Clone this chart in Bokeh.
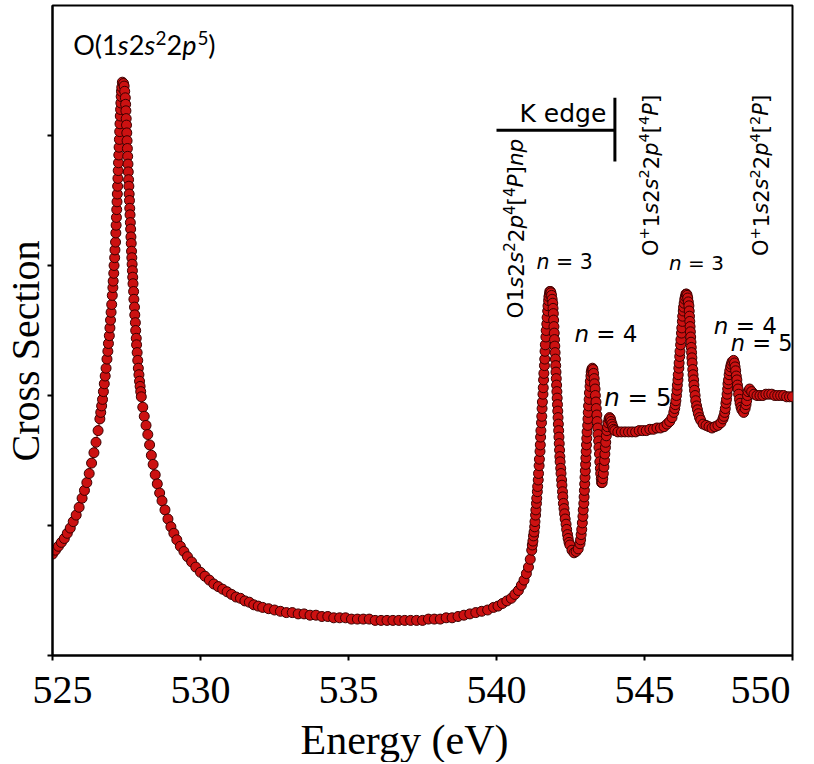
import math
from bokeh.plotting import figure
from bokeh.models import Range1d, FixedTicker, Label, Title
from bokeh.embed import file_html
from bokeh.resources import INLINE

# ---------------- data ----------------
# main O(1s2s^2 2p^5) resonance, rising side
main_rise_ev = [
    525.00, 525.10, 525.20, 525.30, 525.40, 525.50, 525.60, 525.70, 525.80, 525.90,
    526.00, 526.08, 526.16, 526.24, 526.32, 526.40, 526.47, 526.54, 526.60, 526.63,
    526.66, 526.69, 526.72, 526.75, 526.78, 526.81, 526.84, 526.87, 526.89, 526.92,
    526.94, 526.96, 526.98, 527.00, 527.02, 527.04, 527.05, 527.07, 527.08, 527.10,
    527.11, 527.13, 527.14, 527.15, 527.16, 527.17, 527.18, 527.19, 527.20, 527.21,
    527.22, 527.23, 527.24, 527.25, 527.26, 527.27, 527.28, 527.29, 527.30, 527.31,
    527.32, 527.33, 527.34, 527.36]
main_rise_cs = [
    0.78, 0.81, 0.84, 0.87, 0.90, 0.94, 0.98, 1.03, 1.08, 1.14,
    1.21, 1.27, 1.33, 1.40, 1.48, 1.56, 1.64, 1.73, 1.82, 1.87,
    1.92, 1.97, 2.03, 2.09, 2.15, 2.21, 2.28, 2.34, 2.40, 2.46,
    2.52, 2.58, 2.64, 2.70, 2.77, 2.83, 2.88, 2.94, 3.00, 3.06,
    3.12, 3.18, 3.25, 3.31, 3.37, 3.43, 3.49, 3.55, 3.61, 3.67,
    3.73, 3.79, 3.85, 3.91, 3.97, 4.03, 4.09, 4.15, 4.20, 4.25,
    4.30, 4.34, 4.37, 4.41]

# main resonance, falling side
main_fall_ev = [
    527.40, 527.42, 527.44, 527.46, 527.47, 527.48, 527.49, 527.50, 527.51, 527.52,
    527.53, 527.54, 527.55, 527.56, 527.57, 527.58, 527.59, 527.60, 527.61, 527.62,
    527.63, 527.64, 527.65, 527.66, 527.67, 527.68, 527.69, 527.70, 527.71, 527.72,
    527.74, 527.75, 527.77, 527.78, 527.80, 527.81, 527.83, 527.84, 527.86, 527.88,
    527.90, 527.92, 527.94, 527.96, 527.98, 528.00, 528.05, 528.10, 528.16, 528.22,
    528.28, 528.34, 528.40, 528.47, 528.54, 528.62, 528.70, 528.80, 528.90, 529.00,
    529.10, 529.20, 529.32, 529.44, 529.56, 529.70, 529.84, 530.00]
main_fall_cs = [
    4.40, 4.38, 4.34, 4.29, 4.24, 4.19, 4.13, 4.08, 4.02, 3.96,
    3.90, 3.84, 3.78, 3.72, 3.66, 3.61, 3.55, 3.50, 3.44, 3.39,
    3.33, 3.28, 3.22, 3.17, 3.11, 3.06, 3.01, 2.96, 2.91, 2.86,
    2.80, 2.74, 2.68, 2.62, 2.56, 2.50, 2.44, 2.39, 2.33, 2.27,
    2.21, 2.16, 2.11, 2.07, 2.03, 1.99, 1.91, 1.84, 1.77, 1.70,
    1.62, 1.54, 1.47, 1.39, 1.32, 1.25, 1.19, 1.12, 1.05, 0.99,
    0.94, 0.89, 0.84, 0.80, 0.76, 0.72, 0.68, 0.64]

# valley between the resonances
valley_ev = [
    530.15, 530.30, 530.45, 530.60, 530.75, 530.90, 531.05, 531.20, 531.35, 531.50,
    531.65, 531.80, 531.95, 532.10, 532.30, 532.50, 532.70, 532.90, 533.10, 533.30,
    533.50, 533.70, 533.90, 534.10, 534.30, 534.50, 534.70, 534.90, 535.10, 535.30,
    535.50, 535.70, 535.90, 536.10, 536.30, 536.50, 536.70, 536.90, 537.10, 537.30,
    537.50, 537.70, 537.90, 538.10, 538.30, 538.50, 538.70, 538.90, 539.10, 539.30,
    539.50, 539.70, 539.90, 540.05, 540.20, 540.35]
valley_cs = [
    0.61, 0.58, 0.55, 0.53, 0.51, 0.49, 0.47, 0.45, 0.44, 0.42,
    0.41, 0.39, 0.38, 0.37, 0.36, 0.35, 0.34, 0.33, 0.33, 0.32,
    0.32, 0.31, 0.31, 0.30, 0.30, 0.29, 0.29, 0.29, 0.28, 0.28,
    0.28, 0.28, 0.27, 0.27, 0.27, 0.27, 0.27, 0.27, 0.27, 0.27,
    0.27, 0.28, 0.28, 0.28, 0.29, 0.29, 0.30, 0.31, 0.32, 0.33,
    0.34, 0.35, 0.37, 0.38, 0.40, 0.42]

# O 1s2s^2 2p^4[4P] np, n = 3
np3_ev = [
    540.50, 540.62, 540.74, 540.84, 540.93, 541.01, 541.08, 541.14, 541.19, 541.21,
    541.23, 541.25, 541.27, 541.29, 541.30, 541.32, 541.33, 541.35, 541.36, 541.38,
    541.39, 541.41, 541.42, 541.44, 541.45, 541.47, 541.48, 541.49, 541.50, 541.52,
    541.53, 541.54, 541.55, 541.57, 541.58, 541.59, 541.60, 541.62, 541.63, 541.64,
    541.65, 541.67, 541.68, 541.70, 541.71, 541.73, 541.74, 541.76, 541.77, 541.79,
    541.80, 541.82, 541.84, 541.86, 541.88, 541.90, 541.91, 541.92, 541.93, 541.94,
    541.95, 541.96, 541.97, 541.98, 541.99, 542.00, 542.01, 542.02, 542.03, 542.04,
    542.05, 542.06, 542.07, 542.08, 542.09, 542.10, 542.11, 542.12, 542.13, 542.14,
    542.15, 542.17, 542.18, 542.20, 542.21, 542.23, 542.24, 542.26, 542.28, 542.30,
    542.32, 542.35, 542.37, 542.40, 542.42, 542.45, 542.48, 542.55, 542.62, 542.69]
np3_cs = [
    0.44, 0.47, 0.50, 0.54, 0.58, 0.63, 0.68, 0.74, 0.81, 0.85,
    0.88, 0.92, 0.95, 0.99, 1.03, 1.08, 1.12, 1.17, 1.21, 1.26,
    1.30, 1.35, 1.40, 1.46, 1.51, 1.57, 1.62, 1.68, 1.73, 1.79,
    1.84, 1.90, 1.95, 2.01, 2.06, 2.12, 2.17, 2.23, 2.28, 2.34,
    2.39, 2.45, 2.50, 2.55, 2.60, 2.65, 2.69, 2.73, 2.76, 2.78,
    2.80, 2.80, 2.79, 2.77, 2.74, 2.71, 2.67, 2.63, 2.58, 2.53,
    2.48, 2.43, 2.38, 2.33, 2.28, 2.23, 2.18, 2.13, 2.08, 2.03,
    1.98, 1.93, 1.88, 1.83, 1.78, 1.73, 1.68, 1.63, 1.58, 1.53,
    1.49, 1.44, 1.40, 1.35, 1.31, 1.26, 1.22, 1.17, 1.13, 1.09,
    1.05, 1.01, 0.97, 0.93, 0.90, 0.87, 0.85, 0.81, 0.79, 0.80]

# n = 4 and n = 5 below the K edge
np45_ev = [
    542.76, 542.82, 542.84, 542.86, 542.88, 542.90, 542.92, 542.93, 542.95, 542.96,
    542.97, 542.98, 542.99, 543.00, 543.01, 543.02, 543.03, 543.04, 543.05, 543.06,
    543.08, 543.09, 543.10, 543.11, 543.13, 543.14, 543.16, 543.17, 543.19, 543.20,
    543.22, 543.24, 543.26, 543.28, 543.30, 543.31, 543.33, 543.34, 543.36, 543.37,
    543.39, 543.40, 543.42, 543.43, 543.45, 543.46, 543.48, 543.49, 543.51, 543.52,
    543.54, 543.55, 543.57, 543.59, 543.61, 543.63, 543.65, 543.66, 543.68, 543.69,
    543.71, 543.73, 543.75, 543.77, 543.80, 543.82, 543.85, 543.87, 543.90, 543.93,
    543.96, 544.00, 544.10]
np45_cs = [
    0.82, 0.86, 0.89, 0.93, 0.97, 1.02, 1.07, 1.12, 1.17, 1.22,
    1.27, 1.32, 1.37, 1.42, 1.47, 1.52, 1.57, 1.62, 1.67, 1.72,
    1.77, 1.82, 1.87, 1.92, 1.97, 2.02, 2.07, 2.11, 2.15, 2.18,
    2.20, 2.21, 2.20, 2.17, 2.13, 2.09, 2.05, 2.00, 1.95, 1.90,
    1.85, 1.80, 1.75, 1.70, 1.65, 1.60, 1.55, 1.49, 1.44, 1.40,
    1.36, 1.33, 1.33, 1.36, 1.40, 1.45, 1.50, 1.55, 1.60, 1.64,
    1.69, 1.73, 1.76, 1.79, 1.82, 1.83, 1.82, 1.80, 1.78, 1.76,
    1.74, 1.73, 1.72]

# plateau and O+ 1s2s^2 2p^4[4P] n = 3
ion3_ev = [
    544.22, 544.34, 544.46, 544.58, 544.70, 544.82, 544.94, 545.06, 545.18, 545.30,
    545.42, 545.54, 545.66, 545.76, 545.85, 545.93, 545.99, 546.02, 546.04, 546.06,
    546.08, 546.10, 546.11, 546.13, 546.14, 546.16, 546.17, 546.19, 546.20, 546.22,
    546.23, 546.25, 546.26, 546.28, 546.29, 546.31, 546.32, 546.34, 546.36, 546.38,
    546.40, 546.42, 546.44, 546.46, 546.48, 546.50, 546.51, 546.52, 546.53, 546.54,
    546.55, 546.56, 546.57, 546.58, 546.59, 546.60, 546.61, 546.63, 546.64, 546.66,
    546.67, 546.69, 546.71, 546.73, 546.76, 546.79, 546.82, 546.86, 546.90, 546.98,
    547.08, 547.18, 547.28, 547.38, 547.48, 547.58]
ion3_cs = [
    1.72, 1.72, 1.72, 1.72, 1.72, 1.73, 1.73, 1.73, 1.74, 1.74,
    1.75, 1.75, 1.76, 1.78, 1.80, 1.83, 1.87, 1.90, 1.93, 1.96,
    2.00, 2.04, 2.08, 2.12, 2.16, 2.21, 2.25, 2.30, 2.34, 2.39,
    2.43, 2.48, 2.52, 2.57, 2.61, 2.65, 2.68, 2.71, 2.74, 2.76,
    2.78, 2.78, 2.77, 2.75, 2.72, 2.69, 2.65, 2.61, 2.57, 2.53,
    2.49, 2.45, 2.41, 2.37, 2.33, 2.29, 2.25, 2.20, 2.16, 2.12,
    2.08, 2.04, 2.00, 1.96, 1.92, 1.89, 1.86, 1.83, 1.81, 1.78,
    1.77, 1.76, 1.75, 1.76, 1.77, 1.79]

# n = 4, n = 5 above the K edge and the tail
ion45_ev = [
    547.65, 547.68, 547.71, 547.73, 547.75, 547.77, 547.79, 547.81, 547.82, 547.84,
    547.86, 547.88, 547.91, 547.93, 547.96, 548.01, 548.04, 548.06, 548.08, 548.10,
    548.12, 548.14, 548.16, 548.18, 548.21, 548.23, 548.26, 548.29, 548.35, 548.40,
    548.43, 548.45, 548.48, 548.50, 548.55, 548.62, 548.70, 548.80, 548.90, 549.00,
    549.10, 549.20, 549.30, 549.40, 549.50, 549.60, 549.70, 549.80, 549.90, 550.00]
ion45_cs = [
    1.82, 1.84, 1.87, 1.90, 1.94, 1.97, 2.01, 2.05, 2.09, 2.12,
    2.16, 2.19, 2.22, 2.24, 2.26, 2.27, 2.25, 2.22, 2.19, 2.15,
    2.12, 2.08, 2.05, 2.01, 1.97, 1.94, 1.91, 1.89, 1.87, 1.90,
    1.93, 1.96, 2.00, 2.03, 2.05, 2.03, 2.01, 2.00, 2.00, 2.00,
    2.01, 2.01, 2.01, 2.00, 2.00, 2.00, 2.00, 1.99, 1.99, 1.99]

energy_ev = (main_rise_ev + main_fall_ev + valley_ev + np3_ev + np45_ev
             + ion3_ev + ion45_ev)
cross_section = (main_rise_cs + main_fall_cs + valley_cs + np3_cs + np45_cs
                 + ion3_cs + ion45_cs)
assert len(energy_ev) == len(cross_section)

x_ticks = [525, 530, 535, 540, 545, 550]
y_ticks = [0, 1, 2, 3, 4]

# K-edge marker (eV, cross-section units)
k_edge_ev = 544.0
k_edge_bar_x = [540.0, 544.0]
k_edge_bar_y = [4.04, 4.04]
k_edge_tick_y = [4.29, 3.80]

# ---------------- figure ----------------
p = figure(width=810, height=762,
           x_range=Range1d(525, 550), y_range=Range1d(0, 5.0),
           output_backend="svg", toolbar_location=None,
           min_border_left=49, min_border_right=18,
           min_border_top=5, min_border_bottom=103)

p.grid.visible = False
p.background_fill_color = "white"
p.border_fill_color = "white"
p.outline_line_color = "black"
p.outline_line_width = 2
p.outline_line_alpha = 1.0

SERIF = "Liberation Serif"
NB = "\u00a0"

xax = p.xaxis[0]
xax.ticker = FixedTicker(ticks=x_ticks)
# end labels nudged inward as in the reference (no-break space padding)
xax.major_label_overrides = {525: NB + NB + "525", 550: "550" + NB + NB}
xax.major_label_text_font = SERIF
xax.major_label_text_font_style = "normal"
xax.major_label_text_font_size = "40px"
xax.major_label_text_color = "black"
xax.major_label_standoff = 6
xax.major_tick_in = 0
xax.major_tick_out = 5
xax.major_tick_line_width = 2
xax.minor_tick_in = 0
xax.minor_tick_out = 0
xax.axis_line_width = 2

yax = p.yaxis[0]
yax.ticker = FixedTicker(ticks=y_ticks)
yax.major_label_overrides = {t: "" for t in y_ticks}
yax.major_label_standoff = 0
yax.major_tick_in = 0
yax.major_tick_out = 5
yax.major_tick_line_width = 2
yax.minor_tick_in = 0
yax.minor_tick_out = 0
yax.axis_line_width = 2

p.add_layout(Title(text="Energy (eV)", align="left", offset=248, standoff=0,
                   text_font=SERIF, text_font_size="42px", text_font_style="normal",
                   text_color="black"), "below")
p.add_layout(Title(text="Cross Section", align="left", offset=194, standoff=0,
                   text_font=SERIF, text_font_size="40px", text_font_style="normal",
                   text_color="black"), "left")

# data
p.line(energy_ev, cross_section, line_color="#c41010", line_width=1.2)
p.scatter(energy_ev, cross_section, size=10, marker="circle",
          fill_color="#cc1111", line_color="#3a0000", line_width=1)

# K edge bracket
p.line(k_edge_bar_x, k_edge_bar_y, line_color="black", line_width=3)
p.line([k_edge_ev, k_edge_ev], k_edge_tick_y, line_color="black", line_width=3)

# ---------------- annotations ----------------
DV = {'O': .787, '1': .636, '2': .636, '3': .636, '4': .636, '5': .636, 's': .521,
      'p': .635, 'n': .634, 'P': .603, '[': .390, ']': .390, '+': .838, '=': .838,
      ' ': .318, NB: .318, '(': .390, ')': .390}
LATO = {'O': .757, '(': .315, ')': .315, '1': .58, '2': .58, '5': .58, 's': .409,
        'p': .563}
K_DV = 0.346    # baseline -> middle of text box, in em (DejaVu Sans)
K_LATO = 0.387  # same for Lato


def rich(x, y, pieces, size, font, widths, k, angle=0.0, sup_scale=0.7,
         sup_raise=0.42):
    """Place a run of text pieces whose common baseline passes through (x, y)."""
    adv = 0.0
    for txt, italic, sup in pieces:
        fs = size * sup_scale if sup else size
        up = (size * sup_raise if sup else 0.0) + k * fs
        if angle == 0.0:
            xo, yo = adv, up
        else:
            xo, yo = -up, adv
        p.add_layout(Label(x=x, y=y, x_offset=xo, y_offset=yo, text=txt, angle=angle,
                           text_font=font, text_font_size=f"{fs:.1f}px",
                           text_font_style="italic" if italic else "normal",
                           text_color="black", text_align="left",
                           text_baseline="middle"))
        adv += sum(widths[c] for c in txt) * fs


# O(1s2s^2 2p^5)
rich(525.70, 4.618,
     [("O(1", 0, 0), ("s", 1, 0), ("2", 0, 0), ("s", 1, 0), ("2", 0, 1),
      ("2", 0, 0), ("p", 1, 0), ("5", 0, 1), (")", 0, 0)],
     27, "Lato", LATO, K_LATO, sup_raise=0.38)

# rotated state labels
rich(540.90, 2.592,
     [("O1", 0, 0), ("s", 1, 0), ("2", 0, 0), ("s", 1, 0), ("2", 0, 1), ("2", 0, 0),
      ("p", 1, 0), ("4", 0, 1), ("[", 0, 0), ("4", 0, 1), ("P", 1, 0), ("]", 0, 0),
      ("np", 1, 0)],
     21.5, "DejaVu Sans", DV, K_DV, angle=math.pi / 2)
rich(545.457, 3.073,
     [("O", 0, 0), ("+", 0, 1), ("1", 0, 0), ("s", 1, 0), ("2", 0, 0), ("s", 1, 0),
      ("2", 0, 1), ("2", 0, 0), ("p", 1, 0), ("4", 0, 1), ("[", 0, 0), ("4", 0, 1),
      ("P", 1, 0), ("]", 0, 0)],
     21, "DejaVu Sans", DV, K_DV, angle=math.pi / 2)
rich(549.193, 3.073,
     [("O", 0, 0), ("+", 0, 1), ("1", 0, 0), ("s", 1, 0), ("2", 0, 0), ("s", 1, 0),
      ("2", 0, 1), ("2", 0, 0), ("p", 1, 0), ("4", 0, 1), ("[", 0, 0), ("2", 0, 1),
      ("P", 1, 0), ("]", 0, 0)],
     21, "DejaVu Sans", DV, K_DV, angle=math.pi / 2)

# n labels: (x, y, n, size)
n_labels = [(541.353, 2.969, "3", 20.5), (542.631, 2.410, "4", 23),
            (543.641, 1.917, "5", 24.5), (545.828, 2.969, "3", 20),
            (547.342, 2.477, "4", 23), (547.914, 2.342, "5", 22.5)]
for nx, ny, nv, ns in n_labels:
    rich(nx, ny, [("n", 1, 0), (NB + "= " + nv, 0, 0)], ns, "DejaVu Sans", DV, K_DV)

# K edge text
p.add_layout(Label(x=543.708, y=4.105, y_offset=K_DV * 25, text="K edge",
                   text_font="DejaVu Sans", text_font_size="25px", text_color="black",
                   text_align="right", text_baseline="middle"))

open("out.html", "w").write(file_html(p, INLINE))
